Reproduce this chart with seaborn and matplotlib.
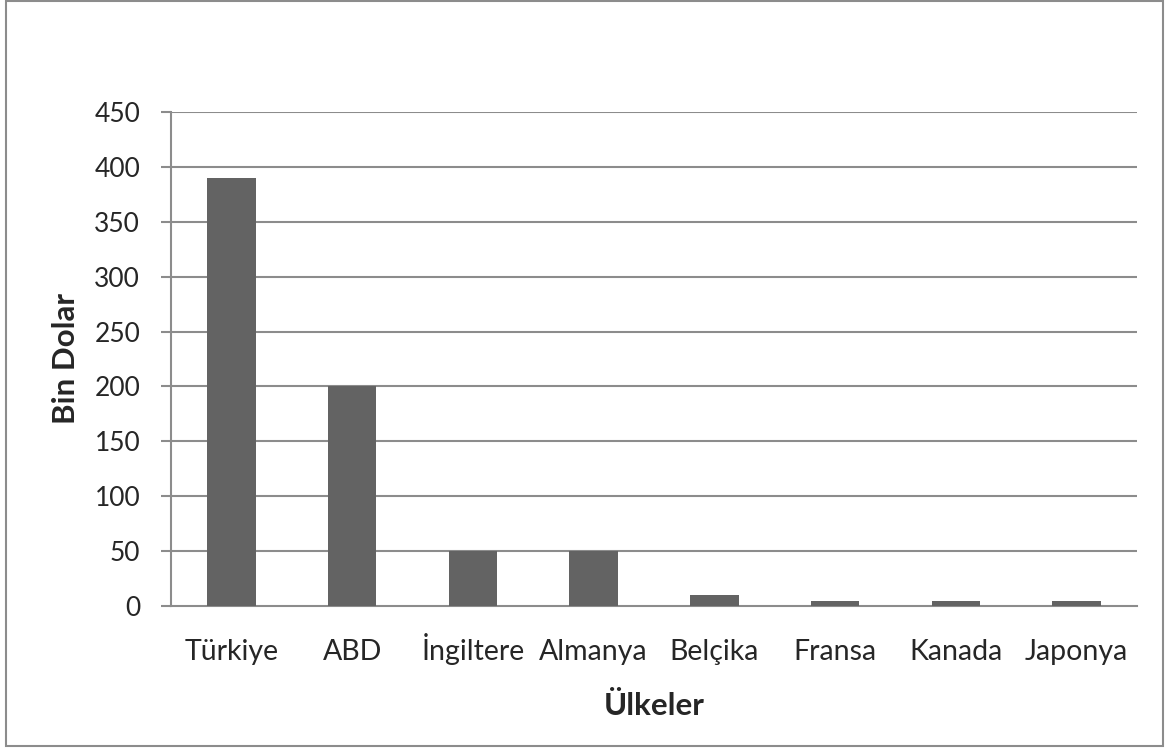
import pandas as pd
import matplotlib.pyplot as plt
import seaborn as sns
from matplotlib.patches import Rectangle

# Chart data
countries = ['Türkiye', 'ABD', 'İngiltere', 'Almanya', 'Belçika', 'Fransa', 'Kanada', 'Japonya']
values = [390, 200, 50, 50, 10, 5, 5, 5]
y_ticks = [0, 50, 100, 150, 200, 250, 300, 350, 400, 450]

df = pd.DataFrame({'Ülkeler': countries, 'Bin Dolar': values})

sns.set_style('white')
plt.rcParams['font.family'] = ['Lato', 'DejaVu Sans']

fig = plt.figure(figsize=(11.69, 7.51), dpi=100)
ax = fig.add_axes([171 / 1169, 1 - 606 / 751, (1137 - 171) / 1169, (606 - 112) / 751])

grid_color = '#8c8c8c'
sns.barplot(data=df, x='Ülkeler', y='Bin Dolar', color='#636363', width=0.4,
            saturation=1, linewidth=0, ax=ax, zorder=3)

ax.set_ylim(0, 450)
ax.set_xlim(-0.5, len(countries) - 0.5)
ax.set_yticks(y_ticks)
for t in y_ticks[1:]:
    ax.axhline(t, color=grid_color, lw=1.5, zorder=1)

for side in ['top', 'right']:
    ax.spines[side].set_visible(False)
for side in ['left', 'bottom']:
    ax.spines[side].set_color(grid_color)
    ax.spines[side].set_linewidth(1.5)

ax.tick_params(axis='y', direction='out', length=7.2, width=1.5, color=grid_color,
               labelsize=19, pad=15, left=True)
# baseline-aligned category labels (so the dotted İ does not push its label down)
ax.tick_params(axis='x', length=0, labelsize=20.5, pad=39)
for lbl in ax.get_xticklabels():
    lbl.set_va('baseline')

ax.set_xlabel('Ülkeler', fontsize=22.5, fontweight='bold', va='baseline')
ax.xaxis.set_label_coords(0.5, -109 / 494)
ax.set_ylabel('Bin Dolar', fontsize=22.5, fontweight='bold', va='center')
ax.yaxis.set_label_coords(-105 / 966, 0.5)

# outer chart border
fig.patches.append(Rectangle((6 / 1169, 5 / 751), 1157 / 1169, 745 / 751,
                             transform=fig.transFigure, fill=False,
                             edgecolor=grid_color, lw=1.5))

plt.savefig('out.png', dpi=100)
plt.close()
